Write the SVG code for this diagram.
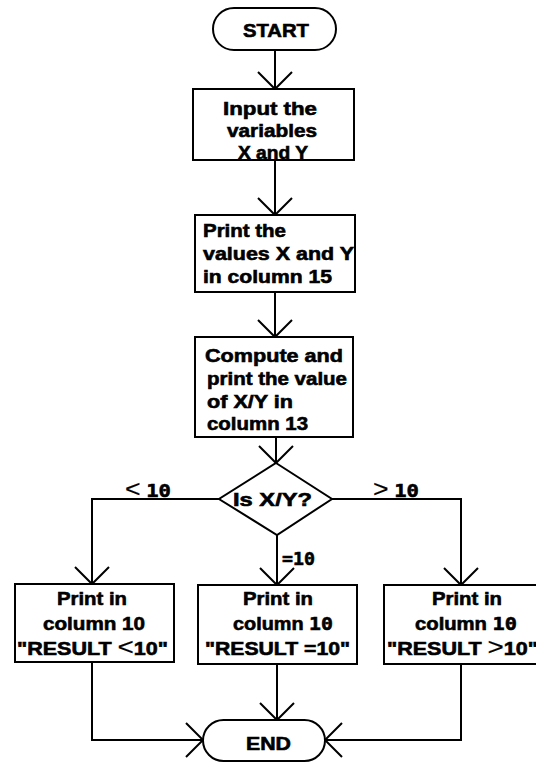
<svg xmlns="http://www.w3.org/2000/svg" width="536" height="764" viewBox="0 0 536 764">
  <style>
    .shape { fill: #fff; stroke: #000; stroke-width: 2; }
    .wire { fill: none; stroke: #000; stroke-width: 2; }
    .t { font-family: "Liberation Sans", Arial, sans-serif; font-weight: bold; font-size: 18.5px; fill: #000; stroke: #000; stroke-width: 0.6px; }
    .m { font-family: "DejaVu Sans Mono", "Liberation Mono", monospace; font-weight: bold; }
    .thin { font-weight: normal; font-size: 24px; stroke-width: 0.2px; }
  </style>
  <defs>
    <marker id="vee" markerUnits="userSpaceOnUse" viewBox="-19 -19 21 38" refX="0" refY="0" markerWidth="21" markerHeight="38" orient="auto" overflow="visible">
      <path d="M-17,-17 L0,0 L-17,17" fill="none" stroke="#000" stroke-width="2"/>
    </marker>
  </defs>
  <rect width="536" height="764" fill="#fff"/>

  <!-- connectors -->
  <g id="connectors" class="wire" marker-end="url(#vee)">
    <path d="M275,50 V89"/>
    <path d="M275,160 V215"/>
    <path d="M275,292 V337"/>
    <path d="M276,437 V463"/>
    <path d="M219,499 H92 V584"/>
    <path d="M277,535 V585"/>
    <path d="M332,499 H461 V585"/>
    <path d="M92,662 V740 H203"/>
    <path d="M277,664 V720"/>
    <path d="M461,664 V740 H325"/>
  </g>

  <!-- branch labels -->
  <g id="labels" class="t">
    <text x="125" y="497" textLength="46" lengthAdjust="spacingAndGlyphs"><tspan class="thin">&lt;</tspan> <tspan class="m">10</tspan></text>
    <text x="282" y="565" textLength="33" lengthAdjust="spacingAndGlyphs"><tspan class="m">=10</tspan></text>
    <text x="373" y="497" textLength="46" lengthAdjust="spacingAndGlyphs"><tspan class="thin">&gt;</tspan> <tspan class="m">10</tspan></text>
  </g>

  <g id="start">
    <rect class="shape" x="213" y="8" width="123" height="42" rx="21"/>
    <text class="t" x="243" y="37" textLength="66" lengthAdjust="spacingAndGlyphs">START</text>
  </g>

  <g id="input">
    <rect class="shape" x="193" y="89" width="161" height="71"/>
    <text class="t" x="223" y="115" textLength="94" lengthAdjust="spacingAndGlyphs">Input the</text>
    <text class="t" x="227" y="137" textLength="90" lengthAdjust="spacingAndGlyphs">variables</text>
    <text class="t" x="238" y="159" textLength="70" lengthAdjust="spacingAndGlyphs">X and Y</text>
  </g>

  <g id="print-xy">
    <rect class="shape" x="195" y="215" width="160" height="77"/>
    <text class="t" x="203" y="237" textLength="83" lengthAdjust="spacingAndGlyphs">Print the</text>
    <text class="t" x="203" y="260" textLength="151" lengthAdjust="spacingAndGlyphs">values X and Y</text>
    <text class="t" x="203" y="283" textLength="129" lengthAdjust="spacingAndGlyphs">in column 15</text>
  </g>

  <g id="compute">
    <rect class="shape" x="195" y="337" width="158" height="100"/>
    <text class="t" x="205" y="362" textLength="138" lengthAdjust="spacingAndGlyphs">Compute and</text>
    <text class="t" x="207" y="385" textLength="140" lengthAdjust="spacingAndGlyphs">print the value</text>
    <text class="t" x="207" y="408" textLength="86" lengthAdjust="spacingAndGlyphs">of X/Y in</text>
    <text class="t" x="207" y="430" textLength="101" lengthAdjust="spacingAndGlyphs">column 13</text>
  </g>

  <g id="decision">
    <polygon class="shape" points="276,463 332,499 277,535 219,499"/>
    <text class="t" x="233" y="506" textLength="79" lengthAdjust="spacingAndGlyphs">Is X/Y?</text>
  </g>

  <g id="result-less">
    <rect class="shape" x="15" y="584" width="159" height="78"/>
    <text class="t" x="57" y="605" textLength="70" lengthAdjust="spacingAndGlyphs">Print in</text>
    <text class="t" x="43" y="630" textLength="102" lengthAdjust="spacingAndGlyphs">column 10</text>
    <text class="t" x="17" y="655" textLength="151" lengthAdjust="spacingAndGlyphs">"RESULT <tspan class="thin">&lt;</tspan>10"</text>
  </g>

  <g id="result-equal">
    <rect class="shape" x="198" y="585" width="159" height="79"/>
    <text class="t" x="243" y="605" textLength="70" lengthAdjust="spacingAndGlyphs">Print in</text>
    <text class="t" x="233" y="630" textLength="100" lengthAdjust="spacingAndGlyphs">column <tspan class="m">10</tspan></text>
    <text class="t" x="205" y="655" textLength="145" lengthAdjust="spacingAndGlyphs">"RESULT =10"</text>
  </g>

  <g id="result-greater">
    <rect class="shape" x="384" y="585" width="162" height="79"/>
    <text class="t" x="432" y="605" textLength="70" lengthAdjust="spacingAndGlyphs">Print in</text>
    <text class="t" x="415" y="630" textLength="102" lengthAdjust="spacingAndGlyphs">column <tspan class="m">10</tspan></text>
    <text class="t" x="387" y="655" textLength="151" lengthAdjust="spacingAndGlyphs">"RESULT <tspan class="thin">&gt;</tspan>10"</text>
  </g>

  <g id="end">
    <rect class="shape" x="203" y="720" width="122" height="41" rx="20.5"/>
    <text class="t" x="246" y="750" textLength="45" lengthAdjust="spacingAndGlyphs">END</text>
  </g>
</svg>
